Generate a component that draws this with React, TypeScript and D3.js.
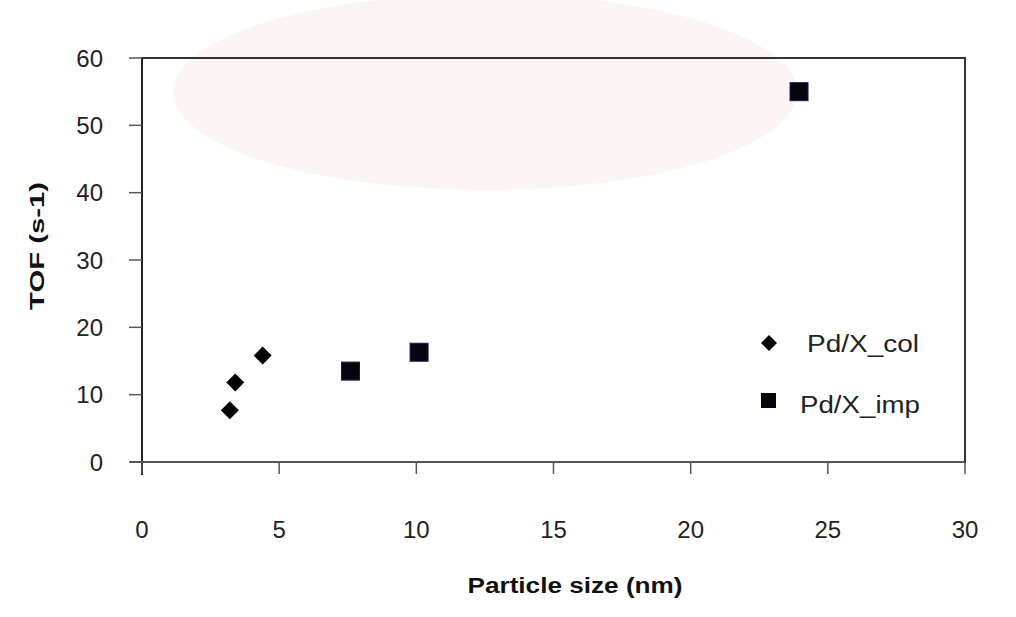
import React from "react";
import * as d3 from "d3";

const colX = [3.2, 3.4, 4.4];
const colY = [7.7, 11.8, 15.8];
const impX = [7.6, 10.1, 23.95];
const impY = [13.5, 16.3, 55.0];
const xTicks = [0, 5, 10, 15, 20, 25, 30];
const yTicks = [0, 10, 20, 30, 40, 50, 60];
const seriesNames = ["Pd/X_col", "Pd/X_imp"];
const xTitle = "Particle size  (nm)";
const yTitle = "TOF  (s-1)";

const W = 1016;
const H = 617;
const L = 142, R = 965, T = 58, B = 462;

export default function App() {
  const x = d3.scaleLinear().domain([0, 30]).range([L, R]);
  const y = d3.scaleLinear().domain([0, 60]).range([B, T]);
  const diamond = (cx: number, cy: number, r: number) =>
    `M${cx},${cy - r}L${cx + r},${cy}L${cx},${cy + r}L${cx - r},${cy}Z`;
  const font = "'Liberation Sans', Arial, sans-serif";
  return (
    <svg width={W} height={H} style={{ position: "absolute", left: 0, top: 0, background: "#fff" }}>
      <rect x={0} y={0} width={W} height={H} fill="#ffffff" />
      {/* faint watermark */}
      <ellipse cx={485} cy={92} rx={312} ry={98} fill="#fdf4f4" />
      <rect x={L} y={T} width={R - L} height={B - T} fill="none" stroke="#333" strokeWidth={2} />
      {/* y axis */}
      <line x1={L} y1={T} x2={L} y2={B + 13} stroke="#222" strokeWidth={2} />
      {yTicks.map((t) => (
        <g key={"y" + t}>
          <line x1={L - 13} x2={L} y1={y(t)} y2={y(t)} stroke="#555" strokeWidth={1.5} />
          <text x={103} y={y(t)} dy="0.36em" textAnchor="end" fontFamily={font} fontSize={24} fill="#222">
            {t}
          </text>
        </g>
      ))}
      {/* x axis */}
      <line x1={L - 12} y1={B} x2={R} y2={B} stroke="#555" strokeWidth={2} />
      {xTicks.map((t) => (
        <g key={"x" + t}>
          <line x1={x(t)} x2={x(t)} y1={B} y2={B + 12} stroke="#555" strokeWidth={1.5} />
          <text x={x(t)} y={538} textAnchor="middle" fontFamily={font} fontSize={24} fill="#222">
            {t}
          </text>
        </g>
      ))}
      <text x={575} y={593} textAnchor="middle" fontFamily={font} fontSize={22} fontWeight="bold" fill="#111"
        textLength={215} lengthAdjust="spacingAndGlyphs">
        {xTitle}
      </text>
      <text transform={`translate(44,246) rotate(-90)`} textAnchor="middle" fontFamily={font} fontSize={20}
        fontWeight="bold" fill="#111" textLength={128} lengthAdjust="spacingAndGlyphs">
        {yTitle}
      </text>
      {/* data */}
      {colX.map((v, i) => (
        <path key={"c" + i} d={diamond(x(v), y(colY[i]), 9)} fill="#050505" />
      ))}
      {impX.map((v, i) => (
        <rect key={"m" + i} x={x(v) - 9} y={y(impY[i]) - 9} width={18} height={18} fill="#05050f"
          stroke="#1c1c4a" strokeWidth={1} />
      ))}
      {/* legend */}
      <path d={diamond(769, 343, 8)} fill="#050505" />
      <text x={807} y={352} fontFamily={font} fontSize={23} fill="#222" textLength={112} lengthAdjust="spacingAndGlyphs">
        {seriesNames[0]}
      </text>
      <rect x={761} y={393} width={15} height={15} fill="#05050f" />
      <text x={800} y={413} fontFamily={font} fontSize={23} fill="#222" textLength={120} lengthAdjust="spacingAndGlyphs">
        {seriesNames[1]}
      </text>
    </svg>
  );
}
